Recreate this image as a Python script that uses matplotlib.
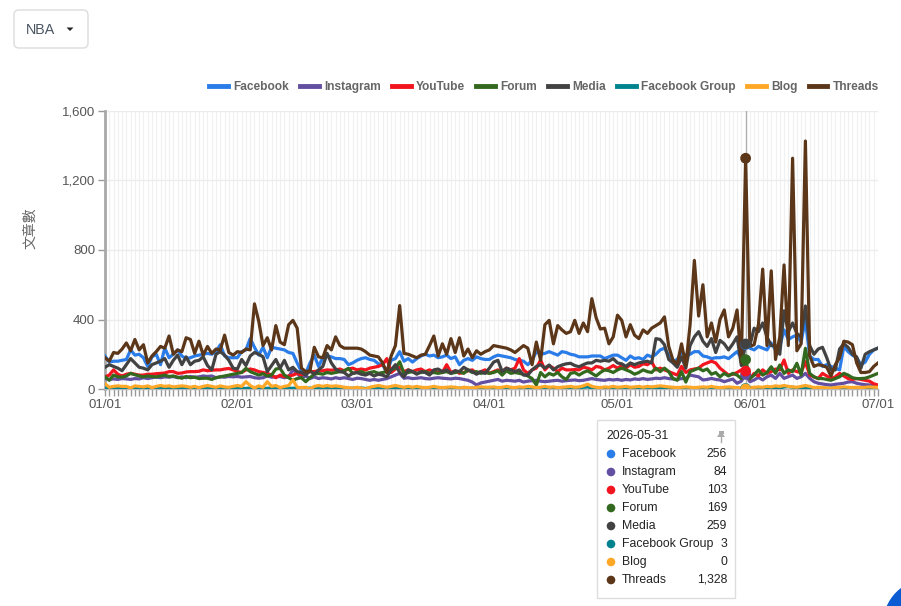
import matplotlib
matplotlib.use('Agg')
import matplotlib.pyplot as plt
import matplotlib.dates as mdates
from matplotlib.patches import FancyBboxPatch, Circle, Polygon, Rectangle
from matplotlib.lines import Line2D
from matplotlib.ticker import FuncFormatter
import pandas as pd

plt.rcParams['font.family'] = ['Liberation Sans', 'Noto Sans CJK TC', 'DejaVu Sans']

dates = pd.date_range('2026-01-01', '2026-07-01', freq='D')

series_names = ['Facebook', 'Instagram', 'YouTube', 'Forum', 'Media',
                'Facebook Group', 'Blog', 'Threads']
series_colors = ['#2a7de8', '#634fa2', '#f2141e', '#33691e', '#424242',
                 '#00838f', '#ffa726', '#5b3619']

facebook = [
    190, 155, 160, 160, 165, 170, 225, 195, 200, 180, 130, 185, 200, 140, 235, 180, 200, 225, 190, 175, 180, 190, 195, 200, 205, 200, 215, 255, 190, 180, 180,
    180, 215, 225, 290, 240, 195, 240, 180, 240, 235, 230, 225, 210, 205, 150, 100, 90, 150, 195, 130, 180, 190, 185, 175, 175, 170, 140, 150,
    165, 175, 180, 170, 165, 145, 140, 95, 165, 175, 215, 160, 175, 155, 175, 190, 200, 190, 195, 180, 185, 195, 175, 185, 140, 165, 175, 165, 185, 175, 170,
    170, 185, 195, 190, 185, 180, 170, 165, 160, 140, 165, 215, 200, 205, 215, 205, 195, 215, 210, 200, 195, 185, 185, 185, 190, 190, 190, 175, 185, 195,
    195, 180, 165, 190, 175, 180, 170, 195, 185, 200, 225, 235, 195, 160, 170, 210, 195, 200, 215, 215, 190, 185, 175, 180, 180, 185, 175, 195, 215, 180, 256,
    235, 225, 245, 235, 225, 265, 225, 245, 340, 285, 300, 310, 270, 400, 190, 170, 170, 130, 140, 130, 120, 110, 245, 215, 195, 180, 140, 155, 200, 225,
    235]

instagram = [
    60, 55, 58, 55, 60, 58, 55, 60, 58, 65, 60, 65, 68, 65, 70, 68, 72, 65, 70, 65, 72, 68, 70, 75, 72, 75, 65, 70, 68, 72, 70,
    72, 68, 70, 72, 65, 62, 65, 75, 68, 70, 72, 65, 70, 110, 90, 65, 75, 60, 70, 60, 65, 62, 58, 65, 60, 65, 60, 55,
    62, 60, 55, 50, 55, 50, 55, 60, 70, 80, 90, 62, 65, 60, 62, 65, 60, 58, 62, 65, 62, 60, 58, 62, 60, 55, 50, 40, 23, 35, 40,
    45, 50, 55, 45, 50, 48, 45, 50, 40, 45, 48, 50, 45, 42, 45, 48, 50, 45, 48, 50, 52, 48, 50, 55, 60, 55, 52, 50, 55, 52,
    55, 50, 55, 52, 58, 55, 60, 55, 58, 62, 60, 65, 60, 58, 55, 60, 61, 80, 75, 70, 52, 55, 61, 55, 52, 42, 50, 57, 33, 45, 84,
    42, 52, 67, 52, 70, 80, 61, 90, 61, 71, 80, 61, 70, 90, 61, 42, 33, 29, 25, 23, 27, 30, 33, 40, 42, 33, 28, 25, 23, 20,
    19]

youtube = [
    70, 80, 110, 85, 75, 85, 90, 85, 80, 80, 85, 85, 88, 90, 92, 100, 100, 90, 92, 98, 100, 100, 102, 110, 105, 108, 110, 110, 115, 118, 110,
    100, 95, 110, 115, 110, 100, 95, 90, 80, 65, 80, 70, 75, 80, 90, 80, 95, 100, 100, 105, 105, 110, 108, 110, 115, 105, 115, 120,
    110, 115, 110, 120, 125, 130, 140, 175, 95, 115, 125, 100, 110, 100, 110, 115, 100, 110, 100, 95, 95, 140, 95, 105, 90, 95, 105, 110, 90, 100, 110,
    90, 100, 110, 100, 120, 110, 120, 175, 110, 90, 110, 120, 167, 110, 135, 120, 100, 120, 110, 110, 112, 110, 125, 120, 110, 130, 125, 110, 120, 135,
    120, 135, 120, 140, 125, 130, 145, 140, 157, 110, 120, 110, 100, 90, 80, 130, 95, 110, 115, 120, 140, 150, 160, 150, 120, 100, 80, 85, 95, 110, 103,
    60, 90, 75, 110, 90, 100, 115, 110, 167, 90, 110, 100, 95, 157, 80, 70, 60, 90, 75, 60, 70, 90, 75, 60, 55, 60, 55, 50, 45, 30,
    23]

forum = [
    70, 50, 80, 70, 68, 75, 90, 82, 75, 70, 75, 72, 70, 75, 80, 72, 75, 68, 62, 72, 65, 68, 60, 62, 62, 55, 65, 70, 75, 80, 85,
    90, 95, 119, 100, 90, 80, 88, 75, 80, 115, 119, 80, 65, 50, 60, 65, 42, 65, 85, 90, 85, 95, 90, 95, 100, 105, 119, 90,
    95, 100, 90, 95, 100, 90, 95, 100, 110, 120, 157, 90, 95, 100, 90, 95, 100, 90, 95, 90, 95, 100, 90, 95, 100, 90, 110, 95, 100, 90, 95,
    90, 95, 105, 80, 105, 90, 95, 90, 85, 75, 60, 23, 95, 70, 90, 80, 95, 70, 55, 90, 95, 80, 95, 105, 90, 75, 95, 110, 105, 95,
    110, 120, 110, 100, 85, 95, 110, 100, 95, 120, 100, 120, 100, 60, 50, 100, 40, 100, 110, 120, 105, 115, 85, 95, 70, 90, 75, 90, 80, 60, 169,
    60, 80, 110, 80, 95, 128, 90, 138, 90, 110, 100, 148, 80, 234, 90, 70, 60, 60, 55, 50, 60, 70, 90, 80, 65, 60, 60, 62, 70, 80,
    90]

media = [
    125, 140, 130, 120, 105, 140, 175, 150, 125, 120, 110, 140, 150, 160, 175, 125, 165, 195, 140, 185, 140, 160, 165, 185, 135, 110, 200, 215, 195, 165, 120,
    115, 170, 135, 190, 210, 200, 185, 100, 135, 170, 120, 165, 110, 125, 100, 95, 80, 105, 85, 110, 130, 205, 150, 115, 100, 95, 75, 90,
    95, 85, 80, 90, 75, 85, 80, 70, 110, 140, 95, 70, 110, 100, 85, 100, 95, 80, 110, 115, 100, 110, 90, 105, 100, 125, 110, 100, 85, 100, 90,
    120, 155, 165, 100, 120, 110, 100, 110, 80, 80, 110, 130, 140, 120, 138, 110, 128, 138, 145, 148, 135, 128, 140, 150, 150, 165, 160, 165, 160, 175,
    150, 145, 130, 150, 140, 150, 155, 160, 150, 290, 285, 255, 170, 150, 125, 185, 120, 250, 300, 330, 275, 245, 290, 210, 280, 260, 225, 260, 300, 135, 259,
    250, 350, 330, 380, 300, 250, 250, 200, 450, 330, 380, 320, 300, 478, 250, 200, 230, 240, 180, 110, 110, 230, 260, 240, 200, 185, 120, 200, 215, 225,
    236]

facebook_group = [
    6, 4, 3, 5, 7, 4, 3, 5, 6, 4, 5, 3, 4, 6, 5, 3, 4, 5, 7, 4, 3, 5, 4, 6, 3, 4, 5, 3, 6, 4, 5,
    4, 5, 3, 6, 4, 5, 3, 4, 6, 5, 4, 3, 5, 4, 6, 3, 4, 5, 3, 4, 6, 5, 3, 4, 5, 4, 3, 5,
    4, 6, 3, 5, 4, 3, 5, 4, 6, 5, 3, 4, 5, 3, 4, 6, 4, 5, 3, 4, 5, 6, 4, 3, 5, 4, 3, 5, 4, 6, 4,
    5, 3, 4, 6, 4, 5, 3, 4, 5, 6, 4, 3, 5, 4, 6, 5, 3, 4, 8, 5, 4, 6, 10, 12, 6, 4, 5, 3, 4, 5,
    6, 4, 5, 3, 4, 5, 8, 10, 6, 5, 4, 6, 5, 3, 4, 5, 6, 4, 3, 5, 4, 6, 5, 3, 4, 5, 6, 4, 5, 4, 3,
    4, 5, 6, 4, 5, 8, 6, 5, 12, 14, 10, 6, 8, 5, 4, 6, 5, 4, 3, 5, 4, 6, 5, 4, 5, 3, 4, 5, 4, 5,
    4]

blog = [
    30, 10, 15, 18, 15, 15, 6, 18, 15, 12, 18, 8, 15, 20, 15, 18, 12, 15, 18, 15, 10, 15, 8, 15, 20, 15, 10, 18, 12, 10, 15,
    20, 15, 42, 20, 6, 18, 10, 42, 15, 20, 8, 15, 20, 52, 10, 8, 10, 0, 15, 20, 15, 20, 15, 18, 15, 10, 8, 5,
    10, 5, 0, 10, 15, 20, 15, 10, 15, 20, 15, 10, 15, 10, 15, 10, 8, 10, 15, 10, 8, 10, 12, 10, 5, 10, 8, 5, 10, 12, 10,
    10, 12, 8, 10, 15, 10, 8, 12, 10, 15, 12, 8, 10, 15, 10, 12, 8, 10, 12, 15, 10, 12, 18, 28, 15, 10, 8, 12, 10, 15,
    10, 12, 15, 10, 12, 15, 10, 15, 12, 15, 18, 15, 12, 10, 8, 10, 12, 10, 8, 10, 12, 10, 15, 10, 8, 10, 12, 10, 8, 5, 0,
    8, 10, 12, 10, 15, 12, 18, 15, 20, 15, 12, 10, 15, 20, 15, 8, 10, 8, 6, 5, 8, 10, 12, 10, 8, 10, 8, 10, 12, 10,
    10]

threads = [
    180, 160, 210, 205, 230, 265, 220, 285, 225, 255, 150, 190, 215, 245, 235, 305, 200, 225, 215, 295, 285, 205, 275, 195, 245, 205, 230, 225, 310, 210, 195,
    215, 210, 230, 225, 490, 390, 250, 295, 225, 365, 270, 255, 370, 395, 350, 120, 100, 105, 240, 185, 180, 250, 225, 300, 250, 235, 235, 235,
    235, 230, 215, 195, 190, 185, 150, 95, 190, 250, 480, 205, 200, 190, 180, 195, 200, 250, 305, 190, 260, 200, 290, 210, 295, 190, 230, 180, 220, 200, 215,
    225, 250, 245, 240, 235, 225, 210, 230, 250, 235, 140, 270, 165, 370, 395, 260, 365, 340, 320, 330, 395, 320, 380, 330, 520, 410, 345, 350, 260, 300,
    425, 395, 300, 370, 310, 290, 340, 320, 350, 365, 380, 415, 245, 165, 145, 260, 135, 370, 740, 420, 600, 300, 380, 270, 400, 455, 300, 350, 455, 150, 1328,
    245, 255, 370, 690, 250, 680, 170, 300, 714, 250, 1328, 220, 260, 1427, 190, 130, 140, 135, 125, 75, 140, 180, 275, 270, 255, 150, 95, 95, 100, 130,
    150]

series_values = [facebook, instagram, youtube, forum, media, facebook_group, blog, threads]

y_ticks = [0, 400, 800, 1200, 1600]
hover_date = '2026-05-31'

W, H = 901, 606
fig = plt.figure(figsize=(W / 100, H / 100), dpi=100)
fig.patch.set_facecolor('white')

L, R, T, B = 105, 878, 111, 389
ax = fig.add_axes([L / W, 1 - B / H, (R - L) / W, (B - T) / H])

for name, vals, col in zip(series_names, series_values, series_colors):
    ax.plot(dates, vals, color=col, lw=2.3, label=name, zorder=3,
            solid_joinstyle='round')

hidx = dates.get_loc(pd.Timestamp(hover_date))
ax.axvline(dates[hidx], color='#b0b0b0', lw=1, zorder=2)
for vals, col in zip(series_values, series_colors):
    ax.scatter([dates[hidx]], [vals[hidx]], s=60, color=col, zorder=5,
               edgecolors='none')

ax.set_xlim(dates[0], dates[-1])
ax.set_ylim(0, 1600)
ax.set_yticks(y_ticks)
ax.yaxis.set_major_formatter(FuncFormatter(lambda v, p: f'{int(v):,}'))
ax.xaxis.set_major_locator(mdates.MonthLocator())
ax.xaxis.set_major_formatter(mdates.DateFormatter('%m/%d'))
ax.xaxis.set_minor_locator(mdates.DayLocator())

ax.grid(which='major', axis='y', color='#ececec', lw=1, zorder=0)
ax.grid(which='both', axis='x', color='#f0f0f0', lw=0.8, zorder=0)
ax.set_axisbelow(True)

for s in ['top', 'right']:
    ax.spines[s].set_visible(False)
ax.spines['left'].set_color('#a8a8a8')
ax.spines['left'].set_linewidth(2)
ax.spines['bottom'].set_color('#b8b8b8')
ax.spines['bottom'].set_linewidth(1)

ax.tick_params(axis='x', which='both', length=5, width=1, color='#999999',
               labelsize=9.5, labelcolor='#555555', pad=2)
ax.tick_params(axis='y', length=5, width=1, color='#999999',
               labelsize=9.5, labelcolor='#555555', pad=2)

fig.text(30 / W, 1 - 228 / H, '文章數', rotation=90, ha='center', va='center',
         fontsize=10, color='#666666', family=['Noto Sans CJK TC', 'DejaVu Sans'])

handles = [Line2D([], [], color=c, lw=3.5) for c in series_colors]
leg = fig.legend(handles, series_names, loc='center right',
                 bbox_to_anchor=(879 / W, 1 - 87 / H), ncol=8, frameon=False,
                 borderaxespad=0, borderpad=0,
                 handlelength=1.55, handletextpad=0.45, columnspacing=0.95,
                 prop={'weight': 'bold', 'size': 8.6})
for t in leg.get_texts():
    t.set_color('#666666')

# overlay in pixel coordinates
ov = fig.add_axes([0, 0, 1, 1], zorder=10)
ov.set_xlim(0, W)
ov.set_ylim(H, 0)
ov.axis('off')
ov.patch.set_alpha(0)

# dropdown
ov.add_patch(FancyBboxPatch((14, 10), 74, 38, boxstyle='round,pad=0,rounding_size=5',
                            fc='white', ec='#dcdcdc', lw=1))
ov.text(26, 29.5, 'NBA', ha='left', va='center', fontsize=10.3, color='#4a5562')
ov.add_patch(Polygon([(66.5, 27.5), (73.5, 27.5), (70, 31)], closed=True,
                     fc='#222222', ec='none'))

# tooltip
ov.add_patch(Rectangle((597, 420), 138, 178, fc='white', ec='#dddddd', lw=1))
ov.text(606, 436, hover_date, ha='left', va='center', fontsize=8.8, color='#222222')
ov.add_patch(Rectangle((718.5, 431), 5, 3, fc='#aaaaaa', ec='none'))
ov.add_patch(Polygon([(717, 437), (725, 437), (723, 434), (719, 434)], closed=True,
                     fc='#aaaaaa', ec='none'))
ov.plot([721, 721], [437, 441.5], color='#aaaaaa', lw=1)
for i, (name, vals, col) in enumerate(zip(series_names, series_values, series_colors)):
    yy = 454 + 18 * i
    ov.add_patch(Circle((611, yy), 4.3, fc=col, ec='none'))
    ov.text(622, yy, name, ha='left', va='center', fontsize=8.8, color='#222222')
    ov.text(727, yy, f'{vals[hidx]:,}', ha='right', va='center', fontsize=8.8,
            color='#222222')

# chat bubble at bottom-right corner
ov.add_patch(Circle((928, 624), 45, fc='#0b5bd3', ec='none'))

fig.savefig('out.png', dpi=100, facecolor='white')
